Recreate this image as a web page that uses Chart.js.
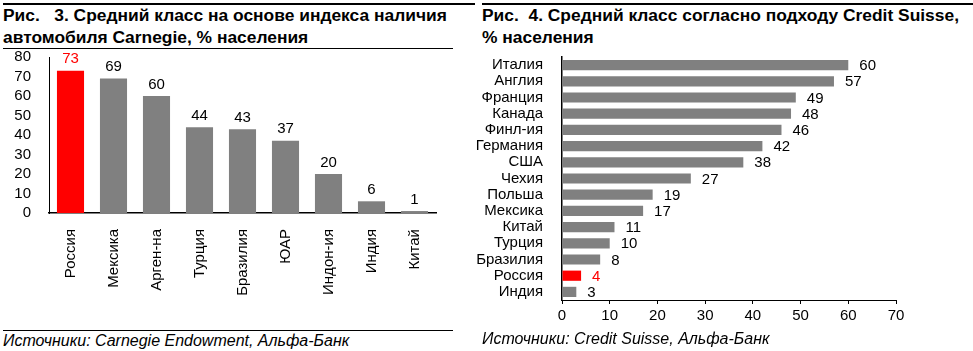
<!DOCTYPE html>
<html>
<head>
<meta charset="utf-8">
<script src="https://cdn.jsdelivr.net/npm/chart.js@4"></script>
<style>
  body { margin: 0; background: #fff; font-family: "Liberation Sans", Arial, sans-serif; }
  .wrap { position: relative; width: 973px; height: 351px; overflow: hidden; }
  .rule { position: absolute; height: 0; border-top: 2px solid #000; }
  .thin { border-top-width: 1px; }
  .title { position: absolute; font-weight: bold; font-size: 17.4px; line-height: 22px; color: #000; white-space: nowrap; }
  .src { position: absolute; font-style: italic; font-size: 16px; color: #000; white-space: nowrap; }
  canvas { position: absolute; }
</style>
</head>
<body>
<div class="wrap">
  <div class="rule" style="left:3px; top:3px; width:472px;"></div>
  <div class="title" style="left:3px; top:4px;">Рис.&nbsp;&nbsp; 3. Средний класс на основе индекса наличия<br>автомобиля Carnegie, % населения</div>
  <div class="rule thin" style="left:3px; top:48px; width:450px;"></div>
  <div style="position:absolute; left:0; top:38px; width:460px; height:287px;"><canvas id="leftChart"></canvas></div>
  <div class="rule thin" style="left:3px; top:330px; width:450px;"></div>
  <div class="src" style="left:3px; top:332px;">Источники: Carnegie Endowment, Альфа-Банк</div>

  <div class="rule" style="left:482px; top:3px; width:491px;"></div>
  <div class="title" style="left:482px; top:4px;">Рис.&nbsp; 4. Средний класс согласно подходу Credit Suisse,<br>% населения</div>
  <div style="position:absolute; left:472px; top:37px; width:501px; height:295px;"><canvas id="rightChart"></canvas></div>
  <div class="src" style="left:482px; top:330px;">Источники: Credit Suisse, Альфа-Банк</div>
</div>
<script>
// Fig. 3 data
const carnegieCountries = ["Россия", "Мексика", "Арген-на", "Турция", "Бразилия", "ЮАР", "Индон-ия", "Индия", "Китай"];
const carnegieValues = [73, 69, 60, 44, 43, 37, 20, 6, 1];

// Fig. 4 data
const suisseCountries = ["Италия", "Англия", "Франция", "Канада", "Финл-ия", "Германия", "США", "Чехия", "Польша", "Мексика", "Китай", "Турция", "Бразилия", "Россия", "Индия"];
const suisseValues = [60, 57, 49, 48, 46, 42, 38, 27, 19, 17, 11, 10, 8, 4, 3];

const highlight = "Россия";
const GRAY = "#808080";
const RED = "#ff0000";
const FONT = "'Liberation Sans', Arial, sans-serif";

const colorsFor = (labels) => labels.map((l) => (l === highlight ? RED : GRAY));

// draws the value next to each bar
const valueLabels = {
  id: "valueLabels",
  afterDatasetsDraw(chart) {
    const ctx = chart.ctx;
    const horizontal = chart.options.indexAxis === "y";
    const labels = chart.data.labels;
    const meta = chart.getDatasetMeta(0);
    ctx.save();
    ctx.font = "15px " + FONT;
    meta.data.forEach((bar, i) => {
      const v = chart.data.datasets[0].data[i];
      ctx.fillStyle = labels[i] === highlight ? RED : "#000";
      if (horizontal) {
        ctx.textAlign = "left";
        ctx.textBaseline = "middle";
        ctx.fillText(v, bar.x + 11, bar.y + 1);
      } else {
        ctx.textAlign = "center";
        ctx.textBaseline = "bottom";
        ctx.fillText(v, bar.x, bar.y - 4);
      }
    });
    ctx.restore();
  },
};

new Chart(document.getElementById("leftChart"), {
  type: "bar",
  data: {
    labels: carnegieCountries,
    datasets: [{ data: carnegieValues, backgroundColor: colorsFor(carnegieCountries), barPercentage: 0.63, categoryPercentage: 1 }],
  },
  options: {
    responsive: true,
    maintainAspectRatio: false,
    animation: false,
    layout: { padding: { top: 0, right: 24, left: 0, bottom: 0 } },
    plugins: { legend: { display: false }, tooltip: { enabled: false } },
    scales: {
      x: {
        grid: { display: false },
        border: { color: "#000", width: 1.5 },
        ticks: { color: "#000", font: { family: FONT, size: 15 }, maxRotation: 90, minRotation: 90, padding: 8 },
        afterFit: (scale) => { scale.height = 112; },
      },
      y: {
        min: 0,
        max: 80,
        grid: { display: false },
        border: { color: "#000", width: 1 },
        ticks: { stepSize: 10, autoSkip: false, color: "#000", font: { family: FONT, size: 15 }, padding: 10 },
        afterFit: (scale) => { scale.width = 49; },
      },
    },
  },
  plugins: [valueLabels],
});

new Chart(document.getElementById("rightChart"), {
  type: "bar",
  data: {
    labels: suisseCountries,
    datasets: [{ data: suisseValues, backgroundColor: colorsFor(suisseCountries), barPercentage: 0.63, categoryPercentage: 1 }],
  },
  options: {
    indexAxis: "y",
    responsive: true,
    maintainAspectRatio: false,
    animation: false,
    layout: { padding: { top: 4, right: 77, left: 0, bottom: 0 } },
    plugins: { legend: { display: false }, tooltip: { enabled: false } },
    scales: {
      x: {
        min: 0,
        max: 70,
        grid: { display: true, drawOnChartArea: false, drawTicks: true, tickLength: 4, color: "#000" },
        border: { color: "#000", width: 1 },
        ticks: { stepSize: 10, autoSkip: false, color: "#000", font: { family: FONT, size: 15 }, padding: 3 },
        afterFit: (scale) => { scale.height = 32; },
      },
      y: {
        grid: { display: false },
        border: { color: "#000", width: 1.5 },
        ticks: { color: "#000", font: { family: FONT, size: 15 }, padding: 11, autoSkip: false },
        afterFit: (scale) => { scale.width = 90; },
      },
    },
  },
  plugins: [valueLabels],
});
</script>
</body>
</html>
